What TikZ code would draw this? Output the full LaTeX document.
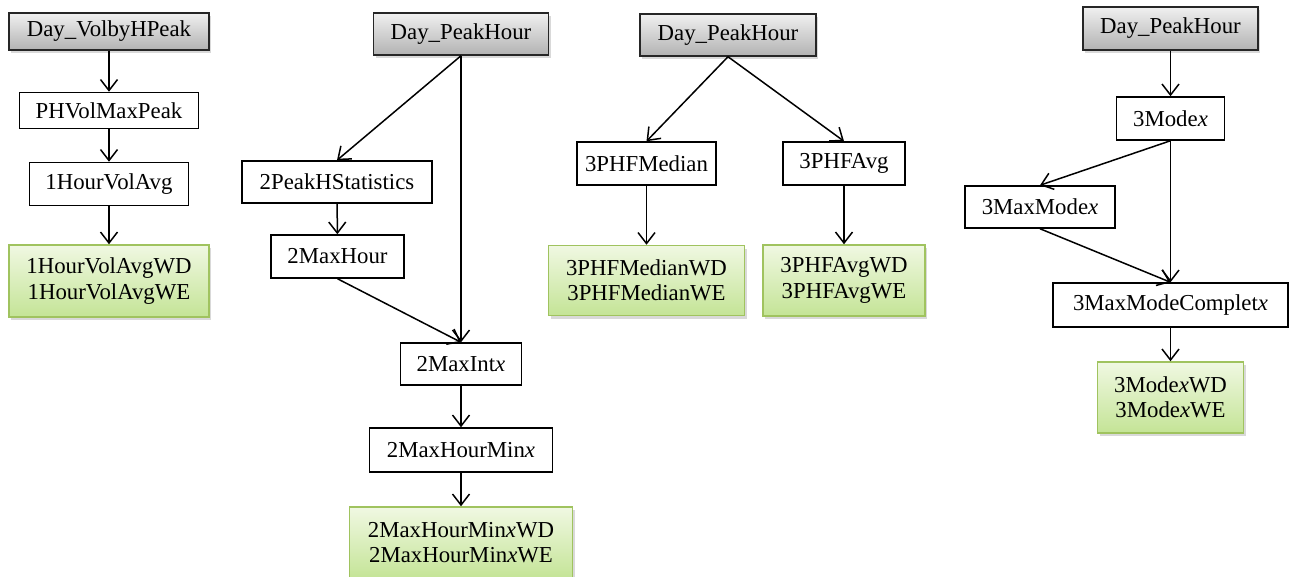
\documentclass[tikz,border=0pt]{standalone}
\usepackage{fontspec}
\setmainfont{Liberation Serif}
\usetikzlibrary{arrows.meta,shadows}

\definecolor{greytop}{RGB}{240,240,240}
\definecolor{greybot}{RGB}{178,178,178}
\definecolor{greentop}{RGB}{240,248,226}
\definecolor{greenbot}{RGB}{196,228,150}
\definecolor{greenrim}{RGB}{160,195,95}

\tikzset{
  every node/.style={font=\fontsize{11.4}{12.6}\selectfont, inner sep=0pt, align=center},
  sz/.style 2 args={minimum width=#1pt, minimum height=#2pt},
  plain/.style={draw=black, line width=0.75pt, fill=white, rectangle},
  source/.style={plain, draw=black!85, top color=greytop, bottom color=greybot,
    drop shadow={shadow xshift=1.2pt, shadow yshift=-1.6pt, opacity=0.3}},
  result/.style={rectangle, draw=greenrim, line width=0.75pt, top color=greentop, bottom color=greenbot,
    drop shadow={shadow xshift=1.2pt, shadow yshift=-1.6pt, opacity=0.3}},
  link/.style={line width=0.75pt, -{Straight Barb[length=5.5pt,width=8.5pt,line width=0.75pt]}},
}

\begin{document}
% one coordinate unit is 0.5pt; box sizes are given in pt
\begin{tikzpicture}[x=0.5pt, y=-0.5pt]
\useasboundingbox (0,0) rectangle (1293,577);

% chain 1
\node[source, sz={100}{18.5}]  (a1) at (109,31.5) {Day\_VolbyHPeak};
\node[plain,  sz={89.5}{18}]   (a2) at (109,110.5) {PHVolMaxPeak};
\node[plain,  sz={79.5}{21.5}] (a3) at (109,184) {1HourVolAvg};
\node[result, sz={100}{36}]    (a4) at (109,281) {1HourVolAvgWD\\1HourVolAvgWE};
\draw[link] (a1) -- (a2);
\draw[link] (a2) -- (a3);
\draw[link] (a3) -- (a4);

% chain 2
\node[source, sz={87.5}{21}]   (b1) at (461,34) {Day\_PeakHour};
\node[plain,  sz={95}{21}]     (b2) at (337,182) {2PeakHStatistics};
\node[plain,  sz={66.5}{21.5}] (b3) at (337.5,256.5) {2MaxHour};
\node[plain,  sz={60.5}{21}]   (b4) at (461,364) {2MaxInt\textit{x}};
\node[plain,  sz={91.5}{22}]   (b5) at (461,450) {2MaxHourMin\textit{x}};
\node[result, sz={111.5}{36}]  (b6) at (461,543) {2MaxHourMin\textit{x}WD\\2MaxHourMin\textit{x}WE};
\draw[link] (b1.south) -- (b2.north);
\draw[link] (b1.south) -- (b4.north);
\draw[link] (b2) -- (b3);
\draw[link] (b3.south) -- (b4.north);
\draw[link] (b4) -- (b5);
\draw[link] (b5) -- (b6);

% chain 3
\node[source, sz={88}{21}]     (c1) at (728,35) {Day\_PeakHour};
\node[plain,  sz={69.5}{21.5}] (c2) at (646.5,163.5) {3PHFMedian};
\node[plain,  sz={61}{21.5}]   (c3) at (844,163.5) {3PHFAvg};
\node[result, sz={98}{35}]     (c4) at (646.5,280.5) {3PHFMedianWD\\3PHFMedianWE};
\node[result, sz={81}{35.5}]   (c5) at (844,280.5) {3PHFAvgWD\\3PHFAvgWE};
\draw[link] (c1.south) -- (c2.north);
\draw[link] (c1.south) -- (c3.north);
\draw[link] (c2) -- (c4);
\draw[link] (c3) -- (c5);

% chain 4
\node[source, sz={87.5}{21.5}] (d1) at (1170.5,28.5) {Day\_PeakHour};
\node[plain,  sz={54}{21.5}]   (d2) at (1170.5,118.5) {3Mode\textit{x}};
\node[plain,  sz={75}{21}]     (d3) at (1040,207) {3MaxMode\textit{x}};
\node[plain,  sz={117.5}{22}]  (d4) at (1170.5,305) {3MaxModeComplet\textit{x}};
\node[result, sz={73}{35.5}]   (d5) at (1170.5,397.5) {3Mode\textit{x}WD\\3Mode\textit{x}WE};
\draw[link] (d1) -- (d2);
\draw[link] (d2.south) -- (d3.north);
\draw[link] (d2.south) -- (d4.north);
\draw[link] (d3.south) -- (d4.north);
\draw[link] (d4) -- (d5);
\end{tikzpicture}
\end{document}
